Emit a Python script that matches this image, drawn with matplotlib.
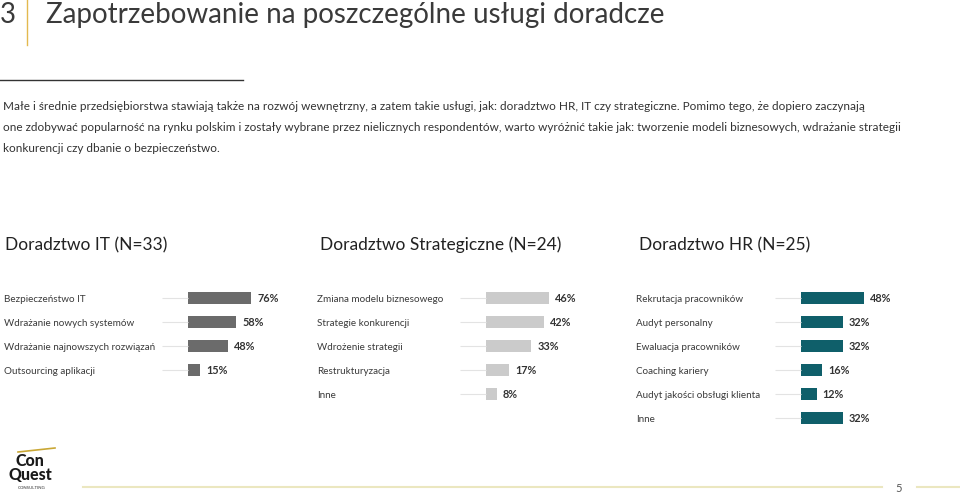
import matplotlib
matplotlib.use("Agg")
import matplotlib.pyplot as plt
from matplotlib.lines import Line2D

plt.rcParams['font.family'] = ['Lato', 'DejaVu Sans']

W, H = 960, 493

# ---- data ----
it_title = "Doradztwo IT (N=33)"
it_cats = ["Bezpieczeństwo IT", "Wdrażanie nowych systemów",
           "Wdrażanie najnowszych rozwiązań", "Outsourcing aplikacji"]
it_vals = [76, 58, 48, 15]

st_title = "Doradztwo Strategiczne (N=24)"
st_cats = ["Zmiana modelu biznesowego", "Strategie konkurencji",
           "Wdrożenie strategii", "Restrukturyzacja", "Inne"]
st_vals = [46, 42, 33, 17, 8]

hr_title = "Doradztwo HR (N=25)"
hr_cats = ["Rekrutacja pracowników", "Audyt personalny", "Ewaluacja pracowników",
           "Coaching kariery", "Audyt jakości obsługi klienta", "Inne"]
hr_vals = [48, 32, 32, 16, 12, 32]

page_title = "Zapotrzebowanie na poszczególne usługi doradcze"
section_no = "3"
paragraph = [
    "Małe i średnie przedsiębiorstwa stawiają także na rozwój wewnętrzny, a zatem takie usługi, jak: doradztwo HR, IT czy strategiczne. Pomimo tego, że dopiero zaczynają",
    "one zdobywać popularność na rynku polskim i zostały wybrane przez nielicznych respondentów, warto wyróżnić takie jak: tworzenie modeli biznesowych, wdrażanie strategii",
    "konkurencji czy dbanie o bezpieczeństwo.",
]
page_no = "5"
logo_text = "Con\nQuest"
logo_sub = "CONSULTING"

fig = plt.figure(figsize=(W / 100, H / 100), dpi=100)
fig.patch.set_facecolor("white")

def fx(px):
    return px / W

def fy(py):
    return 1 - py / H

TXT = "#333333"

# ---- header ----
fig.text(fx(0), fy(15), section_no, fontsize=20, color="#3a3a3a", va="center", ha="left")
fig.add_artist(Line2D([fx(27), fx(27)], [fy(0), fy(45)], color="#e3b94f", lw=1.0))
fig.text(fx(46), fy(15), page_title, fontsize=20, color="#3a3a3a", va="center", ha="left")
fig.add_artist(Line2D([fx(0), fx(243)], [fy(80), fy(80)], color="#333333", lw=1.0))

for i, line in enumerate(paragraph):
    fig.text(fx(3), fy(106 + 21 * i), line, fontsize=8.5, color=TXT, va="center_baseline",
             ha="left")

# ---- panels ----
row0 = 298
step = 24
panels = [
    dict(title=it_title, cats=it_cats, vals=it_vals, tx=5, lx=4, bx=188, scale=0.83, color="#6b6b6b"),
    dict(title=st_title, cats=st_cats, vals=st_vals, tx=320, lx=317, bx=486, scale=1.37, color="#cbcbcb"),
    dict(title=hr_title, cats=hr_cats, vals=hr_vals, tx=639, lx=636, bx=801, scale=1.31, color="#0f5f6a"),
]

nrows = 6
for p in panels:
    fig.text(fx(p["tx"]), fy(245), p["title"], fontsize=12.5, color="#222222", va="center", ha="left")
    width_px = 100 * p["scale"]
    top_px = row0 - step / 2
    ax = fig.add_axes([fx(p["bx"]), fy(top_px + step * nrows), width_px / W, step * nrows / H])
    ax.set_xlim(0, 100)
    ax.set_ylim(nrows - 0.5, -0.5)
    ax.axis("off")
    ys = list(range(len(p["vals"])))
    ax.barh(ys, p["vals"], height=0.54, color=p["color"], left=0)
    gl = 26 / p["scale"]
    ax.hlines(ys, -gl, 0, color="#e3e3e3", lw=0.8, clip_on=False)
    for y, v, c in zip(ys, p["vals"], p["cats"]):
        ax.text(v + 6 / p["scale"], y, f"{v}%", fontsize=7.8, color="#333333",
                va="center_baseline", ha="left", weight="bold")
        fig.text(fx(p["lx"]), fy(row0 + step * y), c, fontsize=7.1, color="#3a3a3a",
                 va="center_baseline", ha="left")

# ---- footer ----
fig.add_artist(Line2D([fx(83), fx(882)], [fy(487), fy(487)], color="#ebe7c0", lw=1.5))
fig.add_artist(Line2D([fx(917), fx(960)], [fy(487), fy(487)], color="#ebe7c0", lw=1.5))
fig.text(fx(899), fy(488), page_no, fontsize=8, color="#555555", va="center", ha="center")
fig.text(fx(30), fy(468), logo_text, fontsize=11.5, color="#1a1a1a", va="center", ha="center",
         multialignment="center", linespacing=0.85, weight="black")
fig.text(fx(32), fy(488), logo_sub, fontsize=3.2, color="#333333", va="center", ha="center")
fig.add_artist(Line2D([fx(18), fx(55)], [fy(452), fy(448)], color="#c9a735", lw=1.2))

fig.savefig("out.png", dpi=100, facecolor="white")
